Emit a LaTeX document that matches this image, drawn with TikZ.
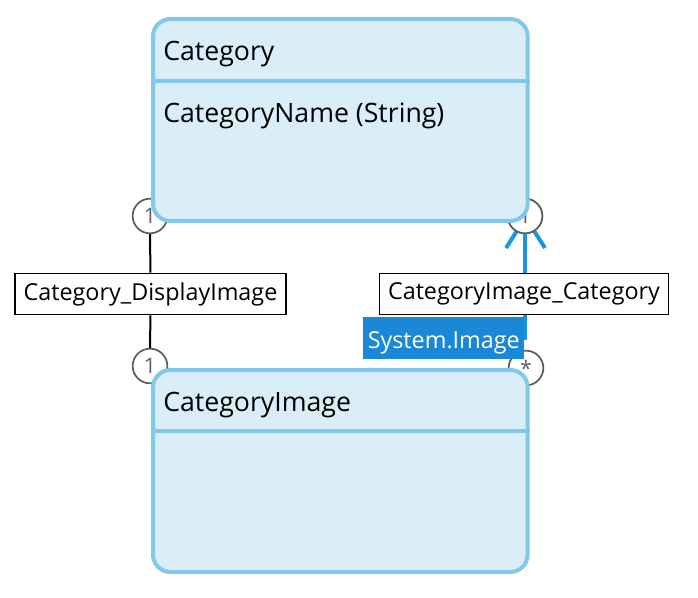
\documentclass[tikz,border=0pt]{standalone}
\usepackage{fontspec}
\setmainfont{Open Sans}
\usepackage{xcolor}
\definecolor{entfill}{HTML}{DAEEF9}
\definecolor{entline}{HTML}{82C8EE}
\definecolor{navblue}{HTML}{1B95E0}
\definecolor{tagblue}{HTML}{1A88D6}
\definecolor{multgray}{HTML}{5E5E5E}

\begin{document}
\begin{tikzpicture}[x=0.75pt, y=-0.75pt,
    every node/.style={font=\fontsize{17.5}{21}\selectfont},
    entity/.style={rectangle, draw=entline, fill=entfill, line width=3pt, rounded corners=13pt, minimum width=281pt, minimum height=151.5pt, inner sep=0pt},
    etext/.style={anchor=base west, inner sep=0pt, font=\fontsize{20}{24}\selectfont},
    assoc/.style={rectangle, draw=black, fill=white, line width=1.2pt, minimum height=31pt, inner xsep=6.5pt, inner ysep=3pt},
    mult/.style={circle, draw=multgray, fill=white, line width=1.3pt, minimum size=26pt, inner sep=0pt, text=multgray, font=\fontsize{16}{18}\selectfont}]
    \useasboundingbox (0,0) rectangle (698,598);

    % multiplicities
    \node (m1) [mult] at (150,216) {1};
    \node (m2) [mult] at (150,366) {1};
    \node (m3) [mult] at (525,216) {1};
    \node (m4) [mult] at (526,368) {*};

    % association labels
    \node (dispimg) [assoc] at (150.5,294) {Category\_DisplayImage};
    \node (catimg) [assoc] at (524,294) {CategoryImage\_Category};

    % connectors
    \draw[line width=1.5pt] (m1) -- (dispimg);
    \draw[line width=1.5pt] (dispimg) -- (m2);
    \draw[navblue, line width=3pt] (525,222) -- (catimg.north -| 525,0);
    \draw[navblue, line width=3pt] (catimg.south -| 525,0) -- (525,340);
    \draw[navblue, line width=3pt] (506,248) -- (520,226);
    \draw[navblue, line width=3pt] (545,248) -- (531,226);
    \node[mult] at (m3) {1};

    % entities
    \node (category) [entity, anchor=north west] at (151,17) {};
    \draw[entline, line width=3pt] (category.west |- 0,81) -- (category.east |- 0,81);
    \node [etext] at (163,61) {Category};
    \node [etext] at (163,123) {CategoryName (String)};

    \node (catimage) [entity, anchor=north west] at (151,368) {};
    \draw[entline, line width=3pt] (catimage.west |- 0,431) -- (catimage.east |- 0,431);
    \node [etext] at (163,411) {CategoryImage};

    % navigation type
    \node (sysimg) [rectangle, fill=tagblue, text=white, anchor=north west, minimum width=120.75pt, minimum height=31.5pt, inner sep=2pt, text height=16pt, text depth=0pt] at (363,317) {System.Image};
\end{tikzpicture}
\end{document}
